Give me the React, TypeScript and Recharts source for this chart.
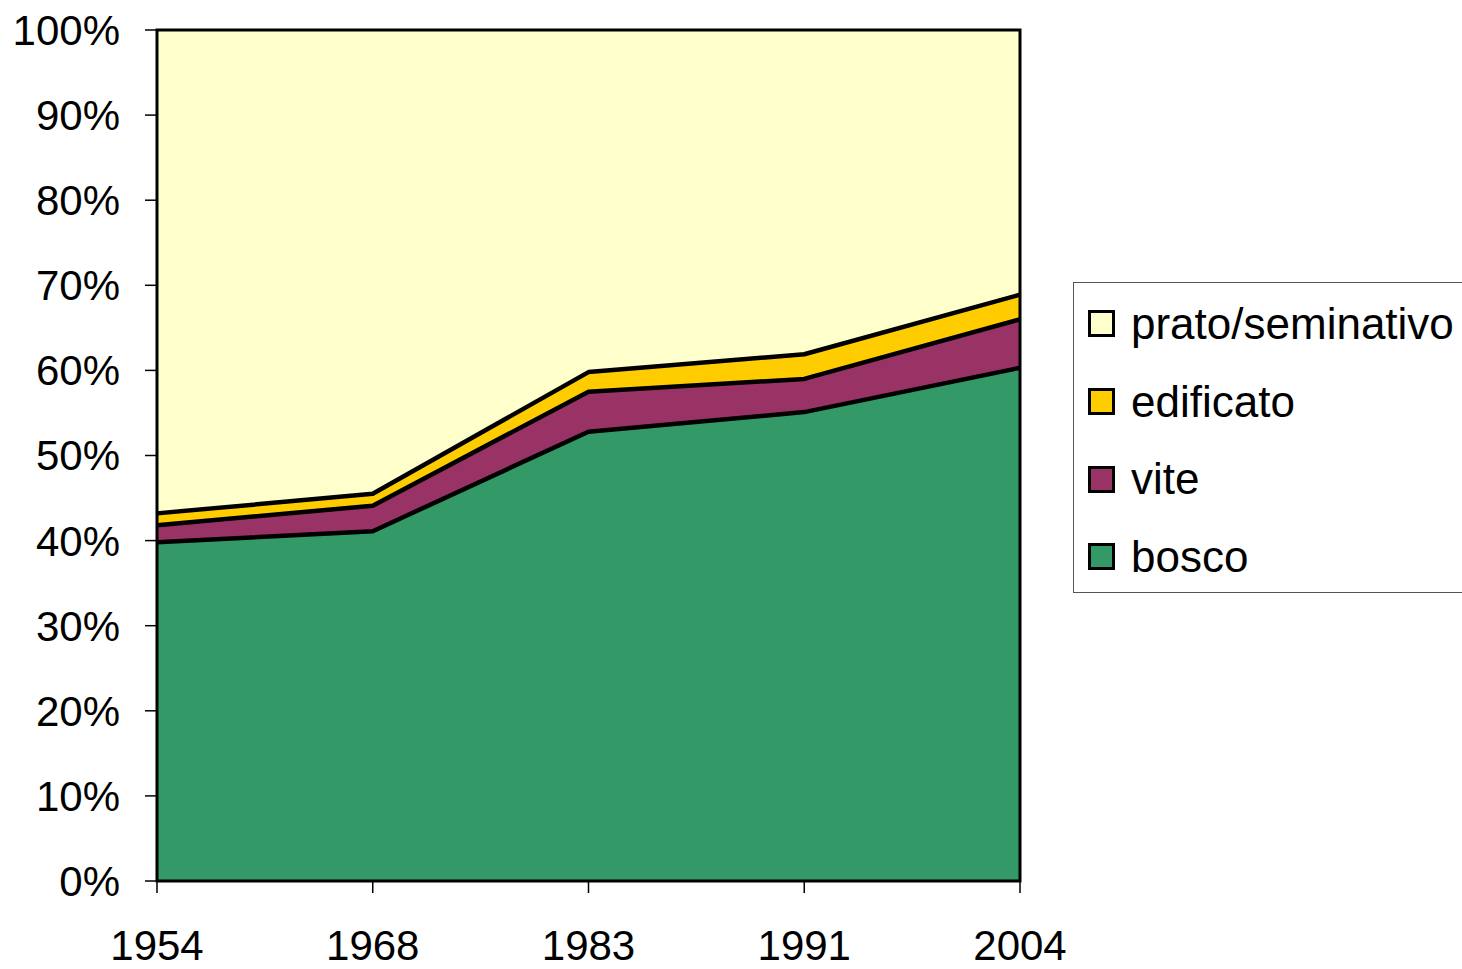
import React from 'react';
import { AreaChart, Area, XAxis, YAxis, ReferenceArea } from 'recharts';

const years = ['1954', '1968', '1983', '1991', '2004'];
const bosco = [39.8, 41.1, 52.8, 55.1, 60.3];
const vite = [2.0, 3.0, 4.7, 3.9, 5.7];
const edificato = [1.4, 1.4, 2.3, 2.9, 2.9];
const prato = [56.8, 54.5, 40.2, 38.1, 31.1];
const yTicks = [0, 10, 20, 30, 40, 50, 60, 70, 80, 90, 100];

const seriesDefs = [
  { key: 'bosco', name: 'bosco', color: '#339966' },
  { key: 'vite', name: 'vite', color: '#993366' },
  { key: 'edificato', name: 'edificato', color: '#FFCC00' },
  { key: 'prato', name: 'prato/seminativo', color: '#FFFFCC' },
];

const data = years.map((y, i) => ({
  year: y,
  bosco: bosco[i],
  vite: vite[i],
  edificato: edificato[i],
  prato: prato[i],
}));

const FONT = '"Liberation Sans", Arial, sans-serif';

const LegendBox = () => {
  const items = [...seriesDefs].reverse();
  return (
    <div
      style={{
        position: 'absolute',
        left: 1073,
        top: 282,
        width: 400,
        height: 311,
        border: '1.5px solid #555',
        background: '#fff',
        boxSizing: 'border-box',
        fontFamily: FONT,
        fontSize: 44,
        color: '#000',
        paddingTop: 2,
      }}
    >
      {items.map((it) => (
        <div key={it.key} style={{ display: 'flex', alignItems: 'center', height: 77.7, paddingLeft: 14 }}>
          <div
            style={{
              width: 27,
              height: 27,
              boxSizing: 'border-box',
              border: '3.5px solid #000',
              background: it.color,
              marginRight: 16,
            }}
          />
          <span style={{ lineHeight: 1, whiteSpace: 'nowrap' }}>{it.name}</span>
        </div>
      ))}
    </div>
  );
};

export default function App() {
  return (
    <div style={{ position: 'absolute', left: 0, top: 0, width: 1462, height: 969, overflow: 'hidden', background: '#fff' }}>
      <AreaChart
        width={1462}
        height={969}
        data={data}
        margin={{ top: 30, right: 442, bottom: 58, left: 7 }}
      >
        <XAxis
          dataKey="year"
          height={30}
          axisLine={false}
          tickLine={{ stroke: '#000', strokeWidth: 1.5 }}
          tickSize={12}
          tickMargin={37}
          interval={0}
          tick={{ fill: '#000', fontSize: 42, fontFamily: FONT }}
        />
        <YAxis
          width={150}
          domain={[0, 100]}
          ticks={yTicks}
          interval={0}
          axisLine={false}
          tickLine={{ stroke: '#000', strokeWidth: 1.5 }}
          tickSize={12}
          tickMargin={25}
          tickFormatter={(v) => `${v}%`}
          tick={{ fill: '#000', fontSize: 42, fontFamily: FONT }}
        />
        {seriesDefs.map((s) => (
          <Area
            key={s.key}
            type="linear"
            dataKey={s.key}
            name={s.name}
            stackId="fill"
            fill={s.color}
            fillOpacity={1}
            stroke="none"
            isAnimationActive={false}
            dot={false}
            activeDot={false}
          />
        ))}
        {seriesDefs.slice(0, 3).map((s) => (
          <Area
            key={s.key + '-line'}
            type="linear"
            dataKey={s.key}
            stackId="line"
            fill="none"
            fillOpacity={0}
            stroke="#000"
            strokeWidth={4.5}
            strokeLinejoin="round"
            isAnimationActive={false}
            dot={false}
            activeDot={false}
            legendType="none"
          />
        ))}
        <ReferenceArea
          x1="1954"
          x2="2004"
          y1={0}
          y2={100}
          fill="none"
          stroke="#000"
          strokeWidth={3}
          ifOverflow="visible"
        />
      </AreaChart>
      <LegendBox />
    </div>
  );
}
